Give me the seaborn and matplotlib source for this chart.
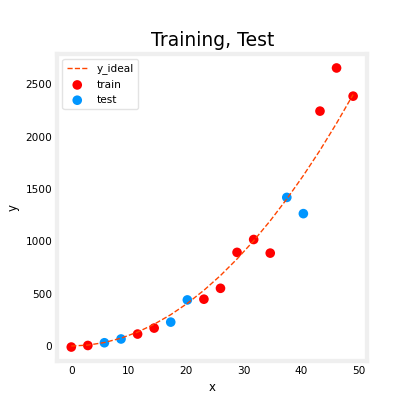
import matplotlib
matplotlib.use("Agg")
import pandas as pd
import seaborn as sns
import matplotlib.pyplot as plt

# データ
x_train = [0.0, 2.88, 11.53, 14.41, 23.06, 25.94, 28.82, 31.71, 34.59, 43.24, 46.12, 49.0]
y_train = [-10, 5, 114, 171, 447, 551, 894, 1017, 887, 2243, 2655, 2386]
x_test = [5.76, 8.65, 17.29, 20.18, 37.47, 40.35]
y_test = [31, 67, 228, 440, 1419, 1264]
x_ideal = [0.0, 2.88, 5.76, 8.65, 11.53, 14.41, 17.29, 20.18, 23.06, 25.94,
           28.82, 31.71, 34.59, 37.47, 40.35, 43.24, 46.12, 49.0]
y_ideal = [0, 8.3, 33.2, 74.8, 133, 208, 299, 407, 532, 673,
           831, 1005, 1196, 1404, 1628, 1869, 2127, 2401]

sns.set_style("white")
plt.rcParams["font.family"] = ["DejaVu Sans"]
plt.rcParams["text.color"] = "black"
plt.rcParams["axes.labelcolor"] = "black"
plt.rcParams["xtick.color"] = "black"
plt.rcParams["ytick.color"] = "black"

fig = plt.figure(figsize=(3.96, 4.08), dpi=100)
ax = fig.add_axes([0.1444, 0.1152, 0.7829, 0.7524])

# === グラフの作成 ===
sns.lineplot(x=x_ideal, y=y_ideal, ax=ax, color="orangered", linestyle="--",
             linewidth=1, label="y_ideal", sort=True)
sns.scatterplot(x=x_train, y=y_train, ax=ax, color="red", s=48,
                edgecolor="none", label="train")
sns.scatterplot(x=x_test, y=y_test, ax=ax, color="#0096ff", s=48,
                edgecolor="none", label="test")

ax.set_title("Training, Test", fontsize=13.5, pad=6, color="black")
ax.set_xlabel("x", fontsize=8.5)
ax.set_ylabel("y", fontsize=8.5)
ax.set_xticks([0, 10, 20, 30, 40, 50])
ax.set_yticks([0, 500, 1000, 1500, 2000, 2500])
ax.tick_params(labelsize=7.6, length=0, pad=3.5, labelcolor="black")

for sp in ax.spines.values():
    sp.set_color("#efefef")
    sp.set_linewidth(3.1)

leg = ax.legend(loc="upper left", fontsize=7.6, frameon=True, fancybox=True)
leg.get_frame().set_edgecolor("#dddddd")
for t in leg.get_texts():
    t.set_color("black")

fig.savefig("out.png", dpi=100, facecolor="white")
